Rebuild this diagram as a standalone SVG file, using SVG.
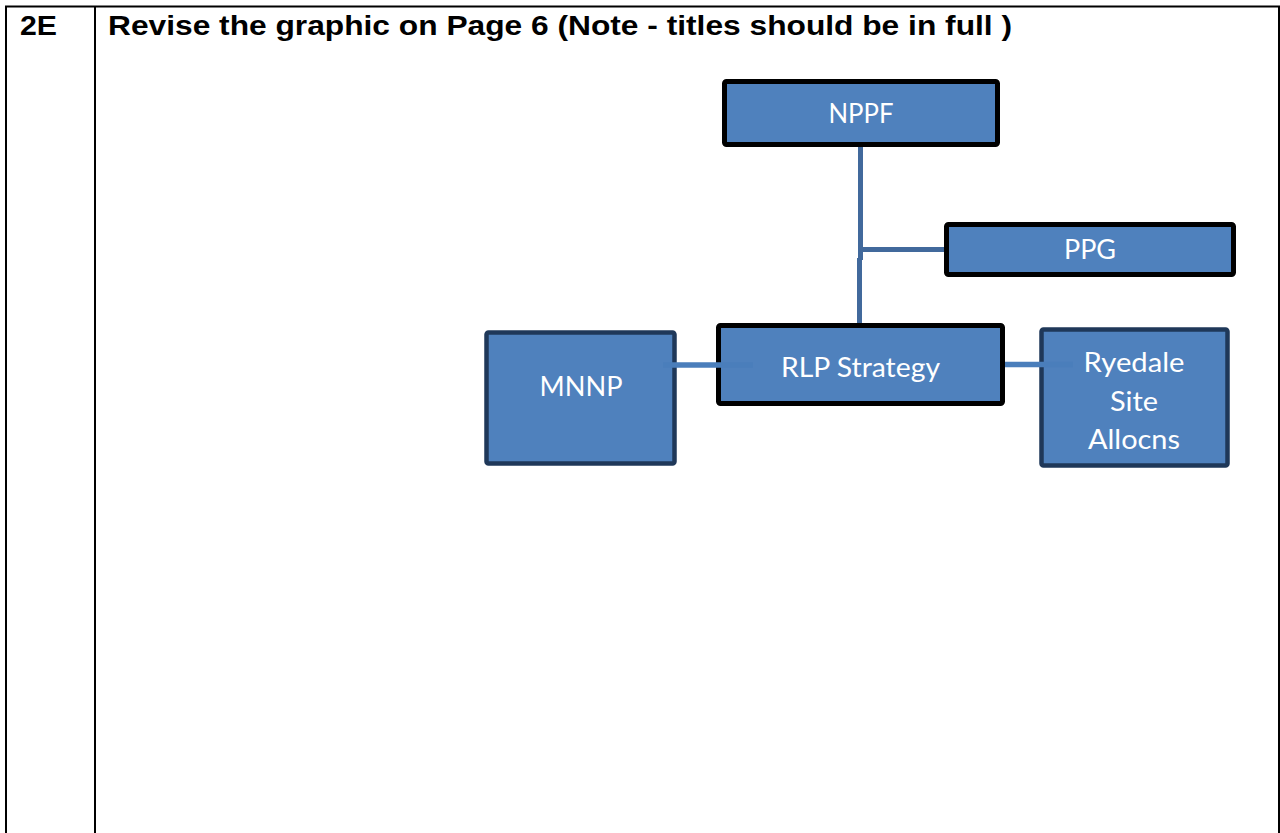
<svg xmlns="http://www.w3.org/2000/svg" width="1280" height="833" viewBox="0 0 1280 833">
<style>
.tbl{stroke:#000;stroke-width:2;fill:none}
.hdr{font-family:"Liberation Sans",Arial,sans-serif;font-weight:bold;font-size:28px;fill:#000}
.box{fill:#4F81BD;stroke-width:5}
.blk{stroke:#000}
.nvy{stroke:#1F3859;stroke-width:4.5}
.lbl{font-family:Lato,"Open Sans",sans-serif;font-size:27px;fill:#fff;text-anchor:middle}
.cv{stroke:#41699C;stroke-width:5;fill:none}
.ch{stroke:#4A7EBB;stroke-width:5.5;fill:none}
</style>
<rect width="1280" height="833" fill="#fff"/>
<g id="table">
<line class="tbl" x1="5" y1="6.5" x2="1280" y2="6.5"/>
<line class="tbl" x1="6" y1="6" x2="6" y2="833"/>
<line class="tbl" x1="95" y1="6" x2="95" y2="833"/>
<line class="tbl" x1="1279" y1="6" x2="1279" y2="833"/>
<text class="hdr" x="20" y="35" textLength="37" lengthAdjust="spacingAndGlyphs">2E</text>
<text class="hdr" x="108" y="35" textLength="904" lengthAdjust="spacingAndGlyphs">Revise the graphic on Page 6 (Note - titles should be in full )</text>
</g>
<g id="connectors-back">
<line class="cv" x1="860.5" y1="146" x2="860.5" y2="260"/>
<line class="cv" x1="859.5" y1="258" x2="859.5" y2="324"/>
<line class="cv" x1="860.5" y1="249.5" x2="946" y2="249.5"/>
</g>
<g id="NPPF">
<rect class="box blk" x="724.5" y="81.5" width="273" height="63" rx="2"/>
<text class="lbl" x="861" y="123" textLength="65" lengthAdjust="spacingAndGlyphs">NPPF</text>
</g>
<g id="PPG">
<rect class="box blk" x="946.5" y="224.5" width="287" height="50" rx="2"/>
<text class="lbl" x="1090" y="259" textLength="52" lengthAdjust="spacingAndGlyphs">PPG</text>
</g>
<g id="MNNP">
<rect class="box nvy" x="486.5" y="332.5" width="188" height="131" rx="2"/>
<text class="lbl" x="581" y="396" textLength="83" lengthAdjust="spacingAndGlyphs">MNNP</text>
</g>
<g id="RLP">
<rect class="box blk" x="718.5" y="325.5" width="284" height="78" rx="2"/>
<text class="lbl" x="860.5" y="377" textLength="159" lengthAdjust="spacingAndGlyphs">RLP Strategy</text>
</g>
<g id="Ryedale">
<rect class="box nvy" x="1041.5" y="329.5" width="186" height="136" rx="2"/>
<text class="lbl" x="1134" y="372" textLength="101" lengthAdjust="spacingAndGlyphs">Ryedale</text>
<text class="lbl" x="1134" y="411" textLength="48" lengthAdjust="spacingAndGlyphs">Site</text>
<text class="lbl" x="1134" y="449" textLength="92" lengthAdjust="spacingAndGlyphs">Allocns</text>
</g>
<g id="connectors">
<line class="ch" x1="663" y1="365" x2="753" y2="365"/>
<line class="ch" x1="1005" y1="364.5" x2="1073" y2="364.5"/>
</g>
</svg>
